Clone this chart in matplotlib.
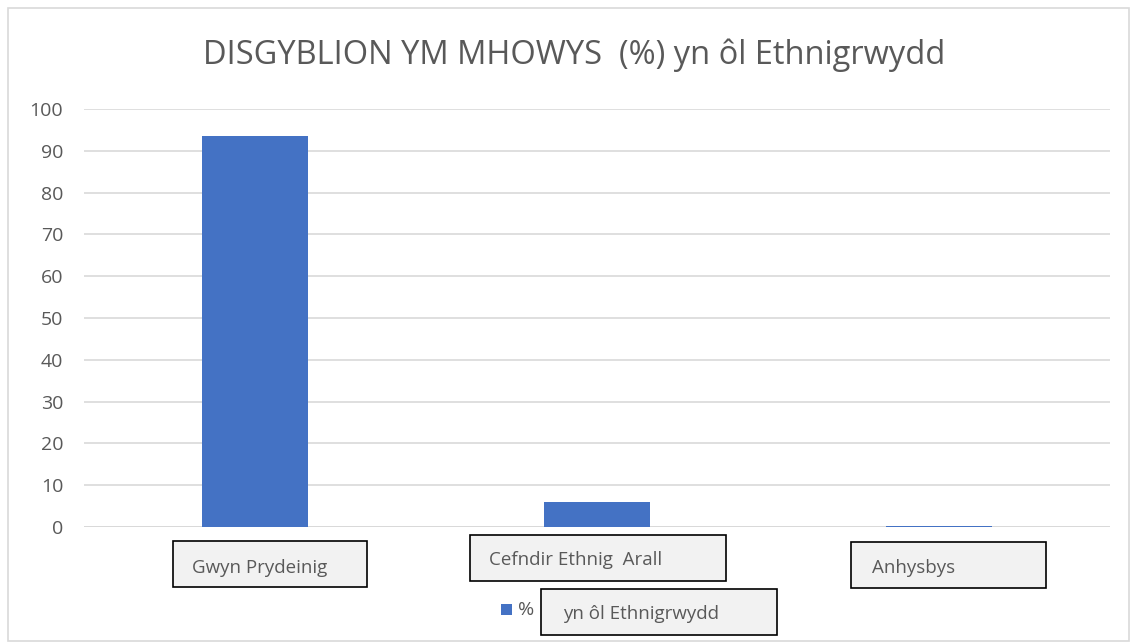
import matplotlib
matplotlib.use("Agg")
import matplotlib.pyplot as plt
from matplotlib.patches import Rectangle

categories = ["Gwyn Prydeinig", "Cefndir Ethnig  Arall", "Anhysbys"]
values = [93.5, 6.0, 0.3]
yticks = [0, 10, 20, 30, 40, 50, 60, 70, 80, 90, 100]
title = "DISGYBLION YM MHOWYS  (%) yn ôl Ethnigrwydd"
legend_pre = "%"
legend_label = "yn ôl Ethnigrwydd"

W, H = 1130, 642
plt.rcParams['font.family'] = ['Open Sans', 'DejaVu Sans']
fig = plt.figure(figsize=(W / 100, H / 100), dpi=100)

def fx(x):
    return x / W

def fy(y):
    return 1 - y / H

# outer border
fig.patches.append(Rectangle((fx(8), fy(641)), fx(1121), (633) / H, transform=fig.transFigure,
                             fill=False, edgecolor="#d9d9d9", lw=1.2))

ax = fig.add_axes([fx(84), fy(527), fx(1110) - fx(84), (527 - 109) / H])
x = list(range(len(categories)))
ax.bar(x, values, width=0.31, color="#4472c4", zorder=3)
ax.set_xlim(-0.5, len(categories) - 0.5)
ax.set_ylim(0, 100)
ax.set_yticks(yticks)
ax.set_yticklabels([str(t) for t in yticks], fontsize=14, color="#595959")
ax.tick_params(axis="y", length=0, pad=15)
ax.set_xticks([])
ax.grid(axis="y", color="#d9d9d9", lw=1.2, zorder=0)
for s in ax.spines.values():
    s.set_visible(False)
ax.axhline(0, color="#d9d9d9", lw=1.4, zorder=2)

fig.text(0.508, fy(55), title, ha="center", va="center", fontsize=23.5, color="#595959")

def box(x0, y0, x1, y1, text, tx, ty, fs=13.5):
    fig.patches.append(Rectangle((fx(x0), fy(y1)), fx(x1 - x0), (y1 - y0) / H,
                                 transform=fig.transFigure, facecolor="#f2f2f2",
                                 edgecolor="black", lw=1.2, zorder=5))
    fig.text(fx(tx), fy(ty), text, ha="left", va="center", fontsize=fs,
             color="#595959", zorder=6)

box(173, 541, 367, 587, categories[0], 192, 568)
box(470, 535, 726, 581, categories[1], 489, 560)
box(851, 542, 1046, 588, categories[2], 872, 568)

# legend
fig.patches.append(Rectangle((fx(501), fy(615)), fx(11), 11 / H, transform=fig.transFigure,
                             facecolor="#4472c4", edgecolor="none", zorder=5))
fig.text(fx(518), fy(610), legend_pre, ha="left", va="center", fontsize=14, color="#595959")
box(541, 589, 777, 635, legend_label, 563, 614)

fig.savefig("out.png", dpi=100)
